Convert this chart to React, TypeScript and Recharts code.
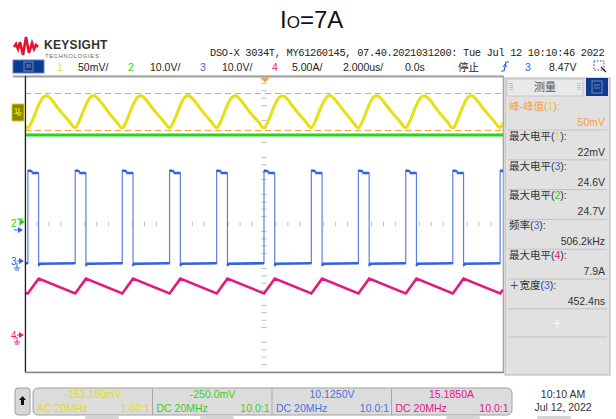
import React from "react";
import { ComposedChart, Line, XAxis, YAxis, CartesianGrid, ReferenceLine } from "recharts";

const SANS = '"Liberation Sans", Arial, "Noto Sans CJK SC", sans-serif';
const MONO = '"Liberation Mono", "DejaVu Sans Mono", monospace';

const C1 = "#e6df12";
const C2 = "#2ad21c";
const C3 = "#3462dc";
const C4 = "#e2197f";
const ORANGE = "#f7a23c";

// vertical setup of each channel: units per division, value at screen centre
const ch1Setup = { perDiv: 50, offset: -153.15 }; // mV
const ch2Setup = { perDiv: 10, offset: -0.25 }; // V
const ch3Setup = { perDiv: 10, offset: 10.125 }; // V
const ch4Setup = { perDiv: 5, offset: 15.185 }; // A

// time in us (2 us/div, trigger at 0), values in channel units
const ch1Points: [number, number][] = [
  [-10.0, -20.5],
  [-9.88, -23], [-9.68, -12], [-9.48, 4], [-9.33, 14], [-9.22, 18.5], [-9.12, 20.3], [-9.02, 19], [-8.88, 14.5], [-8.68, 6], [-8.43, -4], [-8.16, -14],
  [-7.9, -23], [-7.7, -11.5], [-7.5, 4.5], [-7.35, 14.5], [-7.24, 19], [-7.14, 20.6], [-7.04, 19.2], [-6.9, 14.5], [-6.7, 6.5], [-6.45, -4.5], [-6.18, -14.5],
  [-5.93, -23.5], [-5.73, -12], [-5.53, 4], [-5.38, 14], [-5.27, 18.5], [-5.17, 20.2], [-5.07, 19], [-4.93, 14.5], [-4.73, 6], [-4.48, -4], [-4.21, -14],
  [-3.95, -23], [-3.75, -12.5], [-3.55, 3.5], [-3.4, 14], [-3.29, 18.8], [-3.19, 20.5], [-3.09, 19.3], [-2.95, 15], [-2.75, 6.5], [-2.5, -4], [-2.23, -14],
  [-1.98, -23], [-1.78, -12], [-1.58, 4], [-1.43, 14.5], [-1.32, 18.7], [-1.22, 20.3], [-1.12, 19], [-0.98, 14.5], [-0.78, 6], [-0.53, -4.5], [-0.26, -14],
  [0.0, -23.5], [0.2, -12], [0.4, 4], [0.55, 14], [0.66, 18.5], [0.76, 20.2], [0.86, 19], [1.0, 14.8], [1.2, 6], [1.45, -4], [1.72, -14],
  [1.98, -23], [2.18, -11.5], [2.38, 4.5], [2.53, 14], [2.64, 18.8], [2.74, 20.5], [2.84, 19.2], [2.98, 14.5], [3.18, 6.5], [3.43, -4], [3.7, -14.5],
  [3.95, -23], [4.15, -12], [4.35, 4.5], [4.5, 14.5], [4.61, 18.8], [4.71, 20.3], [4.81, 19], [4.95, 14.5], [5.15, 6], [5.4, -4], [5.67, -14],
  [5.93, -23], [6.13, -12], [6.33, 4], [6.48, 14], [6.59, 18.5], [6.69, 20.2], [6.79, 19], [6.93, 15], [7.13, 6], [7.38, -4.5], [7.65, -14],
  [7.9, -23.5], [8.1, -12], [8.3, 4], [8.45, 14], [8.56, 18.8], [8.66, 20.5], [8.76, 19.2], [8.9, 14.5], [9.1, 6], [9.35, -4], [9.62, -14],
  [9.88, -23], [10.0, -16],
];

const ch2Points: [number, number][] = [
  [-10.0, 23.8], [-5.0, 23.8], [0.0, 23.8], [5.0, 23.8], [10.0, 23.8],
];

const ch3Points: [number, number][] = [
  [-10.0, -0.5],
  [-9.88, -0.5], [-9.88, 24.6], [-9.7, 24.4], [-9.7, 23.9], [-9.43, 23.9], [-9.43, -1.1], [-9.38, -0.6],
  [-7.9, -0.5], [-7.9, 24.6], [-7.72, 24.4], [-7.72, 23.9], [-7.45, 23.9], [-7.45, -1.1], [-7.4, -0.6],
  [-5.93, -0.5], [-5.93, 24.6], [-5.75, 24.4], [-5.75, 23.9], [-5.48, 23.9], [-5.48, -1.1], [-5.43, -0.6],
  [-3.95, -0.5], [-3.95, 24.6], [-3.77, 24.4], [-3.77, 23.9], [-3.5, 23.9], [-3.5, -1.1], [-3.45, -0.6],
  [-1.98, -0.5], [-1.98, 24.6], [-1.8, 24.4], [-1.8, 23.9], [-1.53, 23.9], [-1.53, -1.1], [-1.48, -0.6],
  [0.0, -0.5], [0.0, 24.6], [0.18, 24.4], [0.18, 23.9], [0.45, 23.9], [0.45, -1.1], [0.5, -0.6],
  [1.98, -0.5], [1.98, 24.6], [2.16, 24.4], [2.16, 23.9], [2.43, 23.9], [2.43, -1.1], [2.48, -0.6],
  [3.95, -0.5], [3.95, 24.6], [4.13, 24.4], [4.13, 23.9], [4.4, 23.9], [4.4, -1.1], [4.45, -0.6],
  [5.93, -0.5], [5.93, 24.6], [6.11, 24.4], [6.11, 23.9], [6.38, 23.9], [6.38, -1.1], [6.43, -0.6],
  [7.9, -0.5], [7.9, 24.6], [8.08, 24.4], [8.08, 23.9], [8.35, 23.9], [8.35, -1.1], [8.4, -0.6],
  [9.88, -0.5], [9.88, 24.6], [10.0, 24.4],
];

const ch4Points: [number, number][] = [
  [-10.0, 5.84], [-9.88, 5.8], [-9.43, 7.8], [-7.9, 5.8], [-7.45, 7.8], [-5.93, 5.8], [-5.48, 7.8],
  [-3.95, 5.8], [-3.5, 7.8], [-1.98, 5.8], [-1.53, 7.8], [0.0, 5.8], [0.45, 7.8], [1.98, 5.8],
  [2.43, 7.8], [3.95, 5.8], [4.4, 7.8], [5.93, 5.8], [6.38, 7.8], [7.9, 5.8], [8.35, 7.8],
  [9.88, 5.8], [10.0, 6.3],
];

// peak-peak cursors on channel 1 (mV)
const ch1Cursors = [23.2, -26.8];

const xTicks = [-10, -8, -6, -4, -2, 0, 2, 4, 6, 8, 10];
const yTicks = [-4, -3, -2, -1, 0, 1, 2, 3, 4];

const statusItems = [
  { x: 57, text: "1", color: C1 },
  { x: 78, text: "50mV/", color: "#222" },
  { x: 128, text: "2", color: C2 },
  { x: 150, text: "10.0V/", color: "#222" },
  { x: 200, text: "3", color: C3 },
  { x: 222, text: "10.0V/", color: "#222" },
  { x: 272, text: "4", color: C4 },
  { x: 292, text: "5.00A/", color: "#222" },
  { x: 343, text: "2.000us/", color: "#222" },
  { x: 405, text: "0.0s", color: "#222" },
  { x: 458, text: "停止", color: "#222" },
  { x: 525, text: "3", color: C3 },
  { x: 549, text: "8.47V", color: "#222" },
];

const measures = [
  { name: "峰-峰值", ch: 1, value: "50mV" },
  { name: "最大电平", ch: 1, value: "22mV" },
  { name: "最大电平", ch: 3, value: "24.6V" },
  { name: "最大电平", ch: 2, value: "24.7V" },
  { name: "频率", ch: 3, value: "506.2kHz" },
  { name: "最大电平", ch: 4, value: "7.9A" },
  { name: "＋宽度", ch: 3, value: "452.4ns" },
];

const channelBoxes = [
  { value: "-153.150mV", coupling: "AC 20MHz", probe: "1.00:1", color: "#e3dc1c" },
  { value: "-250.0mV", coupling: "DC 20MHz", probe: "10.0:1", color: "#3ccc1e" },
  { value: "10.1250V", coupling: "DC 20MHz", probe: "10.0:1", color: "#4a74e0" },
  { value: "15.1850A", coupling: "DC 20MHz", probe: "10.0:1", color: "#e0208a" },
];

const chColors = ["", C1, C2, C3, C4];

function toDiv(v: number, s: { perDiv: number; offset: number }) {
  return (v - s.offset) / s.perDiv;
}

function series(points: [number, number][], s: { perDiv: number; offset: number }) {
  return points.map(([t, v]) => ({ t, v: toDiv(v, s) }));
}

// flat parts of ch3 look thicker than the fast edges: break the path at every vertical edge
function plateaus(points: [number, number][], s: { perDiv: number; offset: number }) {
  const out: { t: number; v: number | null }[] = [];
  points.forEach(([t, v], i) => {
    if (i > 0 && points[i - 1][0] === t) out.push({ t, v: null });
    out.push({ t, v: toDiv(v, s) });
  });
  return out;
}

const xMinor: number[] = [];
for (let k = -20; k <= 20; k++) if (k % 4 !== 0) xMinor.push(k * 0.5);
const yMinor: number[] = [];
for (let k = -20; k <= 20; k++) if (k % 5 !== 0) yMinor.push(+(k * 0.2).toFixed(2));

function Ground({ x, y, color }: { x: number; y: number; color: string }) {
  return (
    <path d={`M${x} ${y} V${y + 5} M${x - 3} ${y + 5} H${x + 3} M${x - 2} ${y + 7} H${x + 2}`} stroke={color} strokeWidth={1} fill="none" />
  );
}

function Arrow({ x, y, color }: { x: number; y: number; color: string }) {
  return <path d={`M${x} ${y - 3} L${x + 5} ${y} L${x} ${y + 3} Z`} fill={color} />;
}

function Overlay() {
  return (
    <svg width={616} height={419} style={{ position: "absolute", left: 0, top: 0, pointerEvents: "none" }} fontFamily={SANS}>
      {/* title */}
      <text x={280} y={28} fontSize={24} fill="#111">
        I<tspan fontSize={17}>O</tspan>=7A
      </text>

      {/* logo */}
      <polyline
        points="14,47 16,44 18,49 20,42 23,55 26,37 29,53 32,43 34,49 36,45 38,47"
        fill="none" stroke="#e4142e" strokeWidth={2.6} strokeLinejoin="miter"
      />
      <text x={44} y={49} fontSize={12} fontWeight="bold" fill="#333" letterSpacing={0.3}>KEYSIGHT</text>
      <text x={45} y={57.5} fontSize={5.8} fill="#666" letterSpacing={0.7}>TECHNOLOGIES</text>

      <text x={210} y={56} fontFamily={MONO} fontSize={10.4} letterSpacing={-0.35} fill="#222">
        DSO-X 3034T, MY61260145, 07.40.2021031200: Tue Jul 12 10:10:46 2022
      </text>

      {/* status row */}
      <rect x={13} y={60} width={31} height={13} fill="#0d3b8e" stroke="#5f83c4" />
      <rect x={24} y={62} width={9} height={9} fill="none" stroke="#7288b4" />
      <path d="M26 65 H31 M26 67 H31" stroke="#7288b4" />
      {statusItems.map((s, i) => (
        <text key={i} x={s.x} y={71} fontSize={10.5} fill={s.color}>{s.text}</text>
      ))}
      <path d="M501 71 H504 L506 62 H509" stroke={C3} fill="none" strokeWidth={1.2} />
      <path d="M503 67 L505 64 L507 67" stroke={C3} fill="none" strokeWidth={1} />
      <rect x={594} y={61} width={10} height={9} fill="none" stroke="#444" strokeDasharray="1.5 1.5" />
      <path d="M601 67 L606 72" stroke="#222" strokeWidth={1.3} />

      {/* plot frame */}
      <line x1={13} x2={504} y1={76.5} y2={76.5} stroke="#a2a2a2" strokeWidth={2} />
      <line x1={25.5} x2={25.5} y1={76} y2={372} stroke="#222" strokeWidth={1.2} />
      <line x1={503.5} x2={503.5} y1={77} y2={372} stroke="#a8a8a8" strokeWidth={1} />
      <line x1={25} x2={504} y1={372.5} y2={372.5} stroke="#8a8a8a" strokeWidth={1.6} />
      <path d="M260 77.5 L270 77.5 L265 82.5 Z" fill={ORANGE} />

      {/* channel markers */}
      <rect x={12} y={104} width={12} height={17} rx={1} fill="#8a8400" stroke="#d6d000" />
      <text x={13.5} y={114} fontSize={9} fill="#f4ee10">1</text>
      <Ground x={19} y={108} color="#f4ee10" />
      <text x={11} y={227} fontSize={10} fill={C2}>2</text>
      <path d="M17 219 H23 M20 219 V226" stroke={C2} strokeWidth={1} />
      <Arrow x={20} y={222} color={C2} />
      <Arrow x={18} y={230} color={C3} />
      <line x1={14} x2={19} y1={230} y2={230} stroke={C3} />
      <text x={11} y={265} fontSize={10} fill={C3}>3</text>
      <line x1={17} x2={20} y1={261} y2={261} stroke={C3} />
      <Arrow x={19} y={261} color={C3} />
      <Ground x={17} y={263} color={C3} />
      <text x={11} y={339} fontSize={10} fill={C4}>4</text>
      <line x1={17} x2={20} y1={335} y2={335} stroke={C4} />
      <Arrow x={19} y={335} color={C4} />
      <Ground x={17} y={337} color={C4} />

      {/* measurement panel */}
      <rect x={505} y={78} width={105} height={297} fill="#e1e1e1" stroke="#b5b5b5" />
      <rect x={507} y={79} width={76} height={17} fill="#e9e9e9" stroke="#c6c6c6" />
      <text x={545} y={91} textAnchor="middle" fontSize={11} fill="#555">测量</text>
      <path d="M510 83 V91 M512 83 V91 M578 83 V91 M580 83 V91" stroke="#999" strokeDasharray="1 1" />
      <rect x={586} y={78} width={22} height={18} fill="#0d3b8e" />
      <rect x={592} y={81} width={10} height={12} fill="none" stroke="#7288b4" />
      <path d="M594 85 H600 M594 88 H600" stroke="#7288b4" />
      {measures.map((m, i) => {
        const y = 110 + i * 29.8;
        const hl = i === 0;
        return (
          <g key={i}>
            <text x={509} y={y} fontSize={10.5} fill={hl ? ORANGE : "#333"}>
              {m.name}(<tspan fill={chColors[m.ch]}>{m.ch}</tspan>):
            </text>
            <text x={605} y={y + 16} fontSize={10.5} textAnchor="end" fill={hl ? ORANGE : "#333"}>{m.value}</text>
            <line x1={508} x2={607} y1={y + 20} y2={y + 20} stroke="#c2c2c2" />
          </g>
        );
      })}
      <text x={557} y={328} fontSize={14} textAnchor="middle" fill="#fbfbe6">+</text>
      <line x1={508} x2={607} y1={337} y2={337} stroke="#c2c2c2" />

      {/* bottom bar */}
      <rect x={15} y={388} width={15} height={27} rx={3} fill="#d8d8d8" stroke="#a0a0a0" />
      <path d="M22.5 396 L26 400 H24 V405 H21 V400 H19 Z" fill="#111" />
      <rect x={33} y={388} width={479} height={27} rx={5} fill="#dcdcdc" stroke="#a0a0a0" />
      {channelBoxes.map((b, i) => {
        const x0 = 33 + i * 119.5;
        return (
          <g key={i}>
            {i > 0 && <line x1={x0} x2={x0} y1={388} y2={415} stroke="#a8a8a8" />}
            <text x={x0 + 60} y={398} fontSize={10.5} textAnchor="middle" fill={b.color}>{b.value}</text>
            <text x={x0 + 4} y={412} fontSize={10.5} fill={b.color}>{b.coupling}</text>
            <text x={x0 + 117} y={412} fontSize={10.5} textAnchor="end" fill={b.color}>{b.probe}</text>
          </g>
        );
      })}
      <text x={563} y={398} fontSize={10.5} textAnchor="middle" fill="#333">10:10 AM</text>
      <text x={563} y={411} fontSize={10.5} textAnchor="middle" fill="#333">Jul 12, 2022</text>
      {[85, 200, 446, 537].map((x) => (
        <rect key={x} x={x} y={416} width={34} height={4} rx={2} fill="#d4d4d4" />
      ))}
    </svg>
  );
}

export default function App() {
  const d1 = series(ch1Points, ch1Setup);
  const d2 = series(ch2Points, ch2Setup);
  const d3 = series(ch3Points, ch3Setup);
  const d3flat = plateaus(ch3Points, ch3Setup);
  const d4 = series(ch4Points, ch4Setup);

  return (
    <div style={{ position: "relative", width: 616, height: 419, background: "#fff", fontFamily: SANS }}>
      <style>{"body{margin:0}"}</style>
      <ComposedChart width={616} height={419} margin={{ top: 76, right: 113, bottom: 47, left: 25 }}>
        <CartesianGrid stroke="#c9c9c9" strokeWidth={1.2} />
        <XAxis type="number" dataKey="t" domain={[-10, 10]} ticks={xTicks} allowDataOverflow
          tick={false} tickLine={false} axisLine={false} height={0} />
        <YAxis type="number" domain={[-4, 4]} ticks={yTicks} allowDataOverflow
          tick={false} tickLine={false} axisLine={false} width={0} />
        {xMinor.map((t) => (
          <ReferenceLine key={"xm" + t} segment={[{ x: t, y: -0.055 }, { x: t, y: 0.055 }]} stroke="#bdbdbd" />
        ))}
        {yMinor.map((y) => (
          <ReferenceLine key={"ym" + y} segment={[{ x: -0.11, y }, { x: 0.11, y }]} stroke="#bdbdbd" />
        ))}
        {ch1Cursors.map((c) => (
          <ReferenceLine key={c} y={toDiv(c, ch1Setup)} stroke={ORANGE} strokeWidth={1.2} strokeDasharray="6 4" />
        ))}
        <Line data={d4} dataKey="v" type="linear" stroke={C4} strokeWidth={2.6} dot={false} activeDot={false} isAnimationActive={false} />
        <Line data={d3} dataKey="v" type="linear" stroke="#5b80e4" strokeWidth={1.2} dot={false} activeDot={false} isAnimationActive={false} />
        <Line data={d3flat} dataKey="v" type="linear" stroke={C3} strokeWidth={2.6} dot={false} activeDot={false} isAnimationActive={false} />
        <Line data={d2} dataKey="v" type="linear" stroke={C2} strokeWidth={3} dot={false} activeDot={false} isAnimationActive={false} />
        <Line data={d1} dataKey="v" type="monotone" stroke={C1} strokeWidth={3} dot={false} activeDot={false} isAnimationActive={false} />
      </ComposedChart>
      <Overlay />
    </div>
  );
}
